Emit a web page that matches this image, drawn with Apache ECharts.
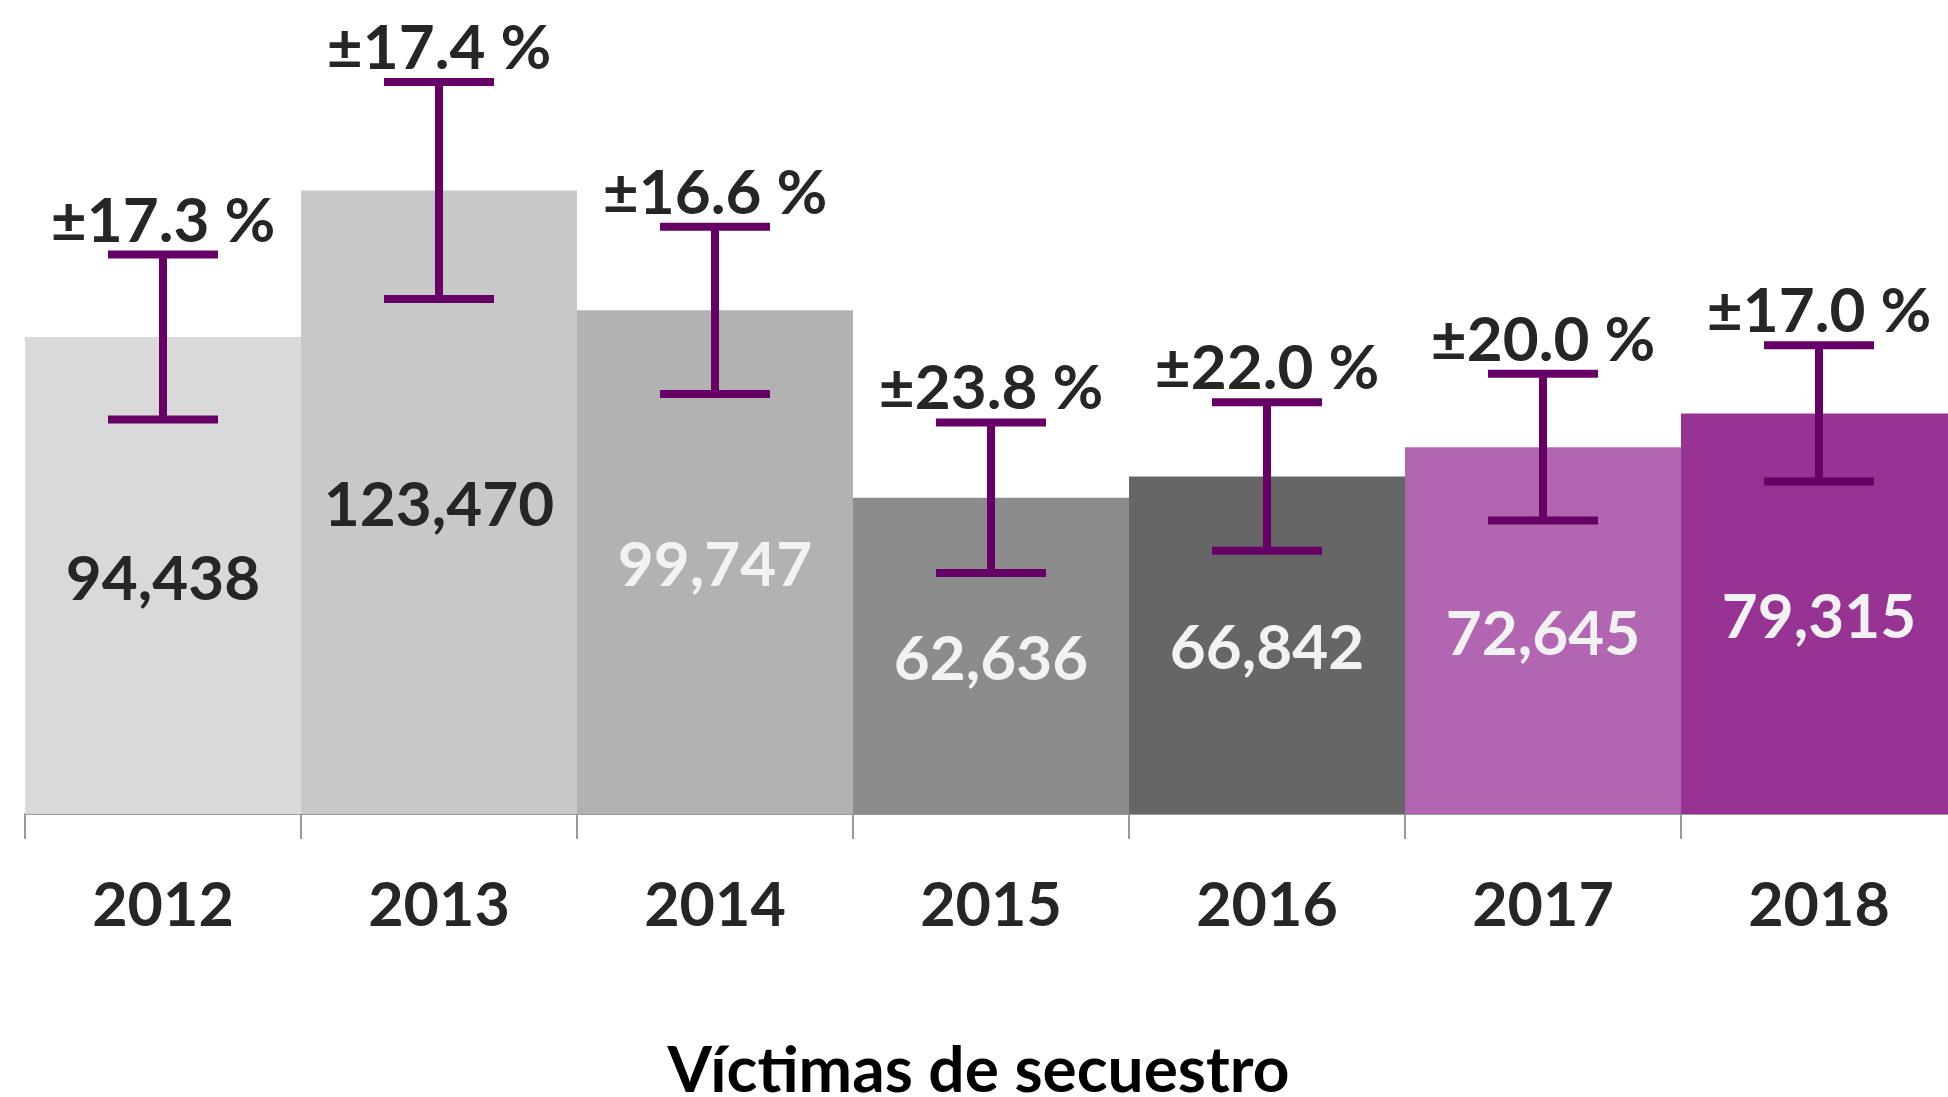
<!DOCTYPE html>
<html>
<head>
<meta charset="utf-8">
<title>Víctimas de secuestro</title>
<script src="https://cdn.jsdelivr.net/npm/echarts@6/dist/echarts.min.js"></script>
<style>
  html, body { margin: 0; padding: 0; background: #fff; overflow: hidden; }
  /* a little wider than the window: the last bar is cut off at the right edge */
  #chart { width: 1957px; height: 1097px; }
</style>
</head>
<body>
<div id="chart"></div>
<script>
// data
const years = ['2012', '2013', '2014', '2015', '2016', '2017', '2018'];
const victims = [94438, 123470, 99747, 62636, 66842, 72645, 79315];
const marginPct = [17.3, 17.4, 16.6, 23.8, 22.0, 20.0, 17.0];

const barColors = ['#d9d9d9', '#c8c8c8', '#b2b2b2', '#8c8c8c', '#666666', '#b266b2', '#963393'];
const labelColors = ['#262626', '#262626', '#f2f2f2', '#f2f2f2', '#f2f2f2', '#f2f2f2', '#f2f2f2'];

const FONT = 'Lato';
const errColor = '#660066';

const chart = echarts.init(document.getElementById('chart'));

// error bar bounds = value +/- margin of error
const errData = years.map((y, i) => [
  i,
  victims[i] * (1 - marginPct[i] / 100),
  victims[i] * (1 + marginPct[i] / 100),
  marginPct[i]
]);

const renderErr = (params, api) => {
  const lo = api.coord([api.value(0), api.value(1)]);
  const hi = api.coord([api.value(0), api.value(2)]);
  const cx = hi[0];
  const half = 55;
  const lineStyle = { stroke: errColor, lineWidth: 8 };
  return {
    type: 'group',
    children: [
      { type: 'line', shape: { x1: cx, y1: hi[1], x2: cx, y2: lo[1] }, style: lineStyle },
      { type: 'line', shape: { x1: cx - half, y1: hi[1], x2: cx + half, y2: hi[1] }, style: lineStyle },
      { type: 'line', shape: { x1: cx - half, y1: lo[1], x2: cx + half, y2: lo[1] }, style: lineStyle },
      {
        type: 'text',
        style: {
          text: '±' + api.value(3).toFixed(1) + ' %',
          x: cx,
          y: hi[1] - 2,
          align: 'center',
          verticalAlign: 'bottom',
          fontFamily: FONT,
          fontWeight: 'bold',
          fontSize: 62,
          fill: '#262626'
        }
      }
    ]
  };
};

const option = {
  animation: false,
  backgroundColor: '#ffffff',
  title: {
    text: 'Víctimas de secuestro',
    left: 'center',
    top: 1034,
    textStyle: { fontFamily: FONT, fontWeight: 'bold', fontSize: 64, color: '#000' }
  },
  grid: { left: 25, right: 0, top: 6, bottom: 283 },
  xAxis: {
    type: 'category',
    data: years,
    axisLine: { lineStyle: { color: '#999', width: 2 } },
    axisTick: { show: true, length: 25, interval: 0, lineStyle: { color: '#999', width: 2 } },
    axisLabel: {
      interval: 0,
      margin: 62,
      fontFamily: FONT,
      fontWeight: 'bold',
      fontSize: 61,
      color: '#262626'
    }
  },
  yAxis: {
    type: 'value',
    min: 0,
    max: 160000,
    show: false,
    splitLine: { show: false }
  },
  series: [
    {
      type: 'bar',
      barWidth: '100%',
      barCategoryGap: 0,
      data: victims.map((v, i) => ({
        value: v,
        itemStyle: { color: barColors[i] },
        label: { color: labelColors[i] }
      })),
      label: {
        show: true,
        position: 'inside',
        offset: [0, 4],
        fontFamily: FONT,
        fontWeight: 'bold',
        fontSize: 62,
        formatter: p => p.value.toLocaleString('en-US')
      }
    },
    {
      type: 'custom',
      renderItem: renderErr,
      data: errData,
      z: 5
    }
  ]
};

chart.setOption(option);
</script>
</body>
</html>
